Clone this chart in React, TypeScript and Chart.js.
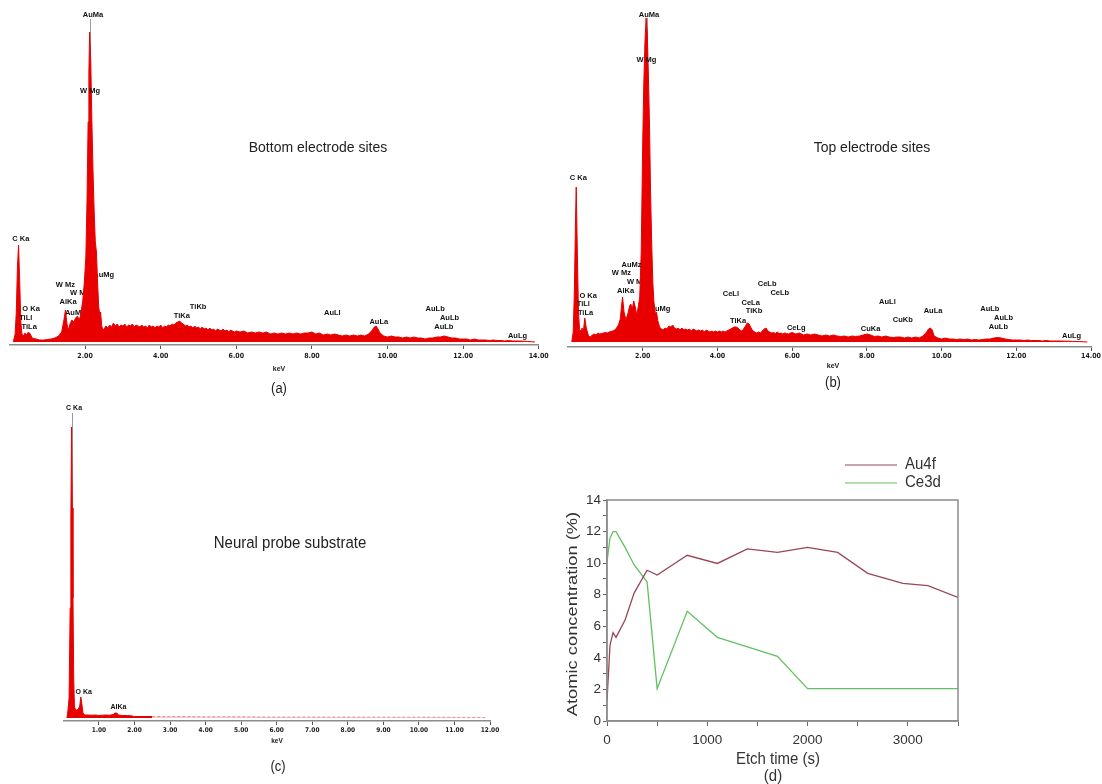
import React, { useEffect, useRef } from 'react';
import { Chart, registerables } from 'chart.js';

Chart.register(...registerables);

const SANS = '"Liberation Sans", Arial, Helvetica, sans-serif';
const NARROW = '"Liberation Sans Narrow", "DejaVu Sans Condensed", "Liberation Sans", sans-serif';
const RED = '#e80000';
const AU_COLOR = '#984656';
const CE_COLOR = '#62c062';

// ---------- (a) Bottom electrode sites : [keV, counts] ----------
const spectrumA: [number, number][] = [
  [0.10, 0], [0.15, 80], [0.18, 300], [0.21, 750], [0.24, 970], [0.27, 600], [0.30, 200], [0.33, 80],
  [0.37, 60], [0.41, 90], [0.45, 70], [0.50, 100], [0.55, 80], [0.60, 40], [0.70, 30], [0.80, 20],
  [0.90, 20], [1.00, 25], [1.10, 30], [1.20, 40], [1.30, 60], [1.38, 100], [1.44, 220], [1.48, 320],
  [1.52, 180], [1.56, 120], [1.60, 180], [1.65, 220], [1.70, 200], [1.75, 240], [1.80, 260], [1.84, 220],
  [1.88, 260], [1.94, 420], [1.98, 600], [2.02, 850], [2.05, 1400], [2.08, 2200], [2.10, 2700], [2.12, 3100],
  [2.15, 2800], [2.18, 2200], [2.21, 1700], [2.24, 1300], [2.27, 1000], [2.30, 900], [2.33, 600], [2.36, 350],
  [2.39, 270], [2.41, 300], [2.44, 160], [2.47, 120],
  [2.50, 130], [2.55, 160], [2.60, 140], [2.65, 170], [2.70, 150], [2.75, 190], [2.80, 160], [2.85, 180],
  [2.90, 150], [2.95, 170], [3.00, 160], [3.05, 180], [3.10, 150], [3.15, 170], [3.20, 160], [3.25, 180],
  [3.30, 150], [3.35, 170], [3.40, 160], [3.45, 150], [3.50, 170], [3.55, 150], [3.60, 160], [3.65, 140],
  [3.70, 170], [3.75, 150], [3.80, 160], [3.85, 140], [3.90, 160], [3.95, 150], [4.00, 170], [4.05, 140],
  [4.10, 160], [4.15, 150], [4.20, 170], [4.25, 160], [4.30, 180], [4.35, 170], [4.40, 190], [4.45, 200],
  [4.50, 210], [4.55, 190], [4.60, 180], [4.65, 160], [4.70, 170], [4.75, 150], [4.80, 160], [4.85, 140],
  [4.90, 160], [4.95, 140], [5.00, 150], [5.05, 130], [5.10, 150], [5.15, 130], [5.20, 140], [5.25, 120],
  [5.30, 140], [5.35, 120], [5.40, 130], [5.45, 110], [5.50, 130], [5.55, 120], [5.60, 110], [5.65, 130],
  [5.70, 110], [5.75, 120], [5.80, 100], [5.85, 120], [5.90, 110], [5.95, 100], [6.00, 110],
  [6.1, 100], [6.2, 110], [6.3, 90], [6.4, 100], [6.5, 90], [6.6, 100], [6.7, 90], [6.8, 100], [6.9, 80],
  [7.0, 90], [7.1, 80], [7.2, 90], [7.3, 80], [7.4, 90], [7.5, 80], [7.6, 90], [7.7, 80], [7.8, 90], [7.9, 90],
  [8.0, 100], [8.1, 80], [8.2, 90], [8.3, 70], [8.4, 80], [8.5, 70], [8.6, 80], [8.7, 70], [8.8, 60], [8.9, 70],
  [9.0, 60], [9.1, 70], [9.2, 60], [9.3, 70], [9.4, 60], [9.5, 80], [9.6, 120], [9.65, 150], [9.7, 160],
  [9.75, 130], [9.8, 90], [9.9, 60], [10.0, 50], [10.1, 60], [10.2, 50], [10.3, 50], [10.4, 40], [10.5, 50],
  [10.6, 40], [10.7, 50], [10.8, 40], [10.9, 40], [11.0, 30], [11.1, 40], [11.2, 40], [11.3, 50], [11.4, 50],
  [11.5, 60], [11.6, 50], [11.7, 40], [11.8, 40], [11.9, 30], [12.0, 30], [12.1, 30], [12.2, 20], [12.3, 30],
  [12.4, 20], [12.5, 20], [12.6, 20], [12.7, 15], [12.8, 20], [12.9, 15], [13.0, 15], [13.1, 10], [13.2, 15],
  [13.3, 10], [13.4, 10], [13.5, 10], [13.6, 8], [13.7, 5], [13.8, 3], [13.9, 0],
];
// [label, keV, counts, layer]
const peakLabelsA: [string, number, number, string][] = [
  ['AuMa', 2.21, 3270, 'over'], ['W Mg', 2.13, 2513, 'over'], ['C Ka', 0.30, 1030, 'over'],
  ['AuMg', 2.49, 670, 'under'], ['W Mz', 1.48, 570, 'over'], ['W Ma', 1.86, 487, 'under'],
  ['AlKa', 1.55, 397, 'over'], ['AuMz', 1.73, 287, 'under'], ['O Ka', 0.57, 330, 'over'],
  ['TiLl', 0.43, 240, 'over'], ['TiLa', 0.52, 150, 'over'], ['TiKa', 4.56, 263, 'over'],
  ['TiKb', 4.99, 353, 'over'], ['AuLl', 8.54, 293, 'over'], ['AuLa', 9.77, 197, 'over'],
  ['AuLb', 11.26, 330, 'over'], ['AuLb', 11.64, 237, 'over'], ['AuLb', 11.49, 150, 'over'],
  ['AuLg', 13.44, 60, 'over'],
];
// [keV, top counts] marker lines
const markersA: [number, number][] = [[2.13, 3230]];

// ---------- (b) Top electrode sites ----------
const spectrumB: [number, number][] = [
  [0.10, 0], [0.14, 100], [0.17, 500], [0.20, 1200], [0.22, 1550], [0.25, 900], [0.28, 300], [0.31, 120],
  [0.35, 110], [0.38, 140], [0.41, 100], [0.45, 240], [0.49, 140], [0.55, 60], [0.60, 50], [0.65, 70],
  [0.70, 80], [0.75, 70], [0.80, 90], [0.85, 80], [0.90, 85], [0.95, 90], [1.00, 95], [1.05, 90],
  [1.10, 100], [1.15, 105], [1.20, 110], [1.25, 120], [1.30, 140], [1.35, 170], [1.40, 230], [1.43, 350],
  [1.46, 450], [1.50, 300], [1.55, 220], [1.60, 280], [1.65, 360], [1.68, 380], [1.72, 330], [1.76, 410],
  [1.80, 350], [1.84, 270], [1.88, 350], [1.92, 450], [1.96, 900], [2.00, 2000], [2.03, 2600], [2.06, 3000],
  [2.09, 3240], [2.12, 3100], [2.15, 2700], [2.18, 2200], [2.21, 1500], [2.24, 1000], [2.27, 600],
  [2.30, 400], [2.34, 280], [2.37, 300], [2.40, 220], [2.45, 150],
  [2.50, 130], [2.55, 120], [2.60, 140], [2.65, 130], [2.70, 160], [2.75, 150], [2.80, 170], [2.85, 140],
  [2.90, 130], [2.95, 140], [3.00, 120], [3.05, 140], [3.10, 120], [3.15, 130], [3.20, 120], [3.25, 130],
  [3.30, 110], [3.35, 130], [3.40, 120], [3.45, 110], [3.50, 120], [3.55, 110], [3.60, 120], [3.65, 100],
  [3.70, 120], [3.75, 110], [3.80, 100], [3.85, 110], [3.90, 100], [3.95, 110], [4.00, 100], [4.05, 110],
  [4.10, 100], [4.15, 110], [4.20, 100], [4.25, 110], [4.30, 120], [4.35, 130], [4.40, 140], [4.45, 150],
  [4.50, 150], [4.55, 140], [4.60, 120], [4.65, 110], [4.70, 130], [4.75, 160], [4.80, 190], [4.85, 180],
  [4.90, 140], [4.95, 110], [5.00, 100], [5.05, 90], [5.10, 100], [5.15, 90], [5.20, 110], [5.25, 130],
  [5.30, 140], [5.35, 110], [5.40, 100], [5.45, 90], [5.50, 95], [5.55, 85], [5.60, 100], [5.65, 85],
  [5.70, 90], [5.75, 80], [5.80, 90], [5.85, 85], [5.90, 80], [5.95, 90], [6.00, 95],
  [6.1, 80], [6.2, 90], [6.3, 70], [6.4, 80], [6.5, 70], [6.6, 80], [6.7, 70], [6.8, 60], [6.9, 70],
  [7.0, 60], [7.1, 70], [7.2, 60], [7.3, 55], [7.4, 60], [7.5, 50], [7.6, 60], [7.7, 55], [7.8, 60],
  [7.9, 70], [8.0, 80], [8.1, 70], [8.2, 55], [8.3, 60], [8.4, 50], [8.5, 60], [8.6, 50], [8.7, 45],
  [8.8, 50], [8.9, 50], [9.0, 40], [9.1, 50], [9.2, 40], [9.3, 50], [9.4, 40], [9.5, 60], [9.6, 100],
  [9.65, 130], [9.7, 140], [9.75, 120], [9.8, 60], [9.9, 40], [10.0, 30], [10.1, 40], [10.2, 30],
  [10.3, 30], [10.4, 25], [10.5, 30], [10.6, 25], [10.7, 30], [10.8, 20], [10.9, 25], [11.0, 20],
  [11.1, 25], [11.2, 30], [11.3, 30], [11.4, 40], [11.5, 45], [11.6, 40], [11.7, 30], [11.8, 25],
  [11.9, 20], [12.0, 20], [12.1, 20], [12.2, 15], [12.3, 20], [12.4, 15], [12.5, 15], [12.6, 15],
  [12.7, 10], [12.8, 15], [12.9, 10], [13.0, 10], [13.1, 10], [13.2, 10], [13.3, 8], [13.4, 8],
  [13.5, 6], [13.6, 5], [13.7, 4], [13.8, 2], [13.9, 0],
];
const peakLabelsB: [string, number, number, string][] = [
  ['AuMa', 2.17, 3270, 'over'], ['W Mg', 2.10, 2820, 'over'], ['C Ka', 0.275, 1637, 'over'],
  ['AuMz', 1.70, 770, 'over'], ['W Mz', 1.43, 687, 'over'], ['W Ma', 1.84, 603, 'under'],
  ['AlKa', 1.54, 513, 'over'], ['O Ka', 0.54, 463, 'over'], ['TiLl', 0.41, 377, 'over'],
  ['TiLa', 0.47, 287, 'over'], ['AuMg', 2.46, 330, 'under'], ['CeLl', 4.36, 480, 'over'],
  ['CeLb', 5.33, 577, 'over'], ['CeLb', 5.67, 487, 'over'], ['CeLa', 4.89, 393, 'over'],
  ['TiKb', 4.98, 310, 'over'], ['TiKa', 4.55, 213, 'over'], ['CeLg', 6.11, 137, 'over'],
  ['AuLl', 8.55, 403, 'over'], ['AuLa', 9.77, 310, 'over'], ['CuKb', 8.96, 220, 'over'],
  ['CuKa', 8.10, 130, 'over'], ['AuLb', 11.29, 330, 'over'], ['AuLb', 11.66, 240, 'over'],
  ['AuLb', 11.52, 153, 'over'], ['AuLg', 13.48, 60, 'over'],
];
const markersB: [number, number][] = [[2.11, 3240]];

// ---------- (c) Neural probe substrate ----------
const spectrumC: [number, number][] = [
  [0.10, 0], [0.13, 80], [0.16, 200], [0.19, 1100], [0.21, 2000], [0.23, 2910], [0.25, 2100], [0.27, 1200],
  [0.29, 400], [0.31, 120], [0.34, 80], [0.38, 80], [0.42, 90], [0.46, 120], [0.49, 210], [0.52, 140],
  [0.55, 50], [0.60, 30], [0.70, 30], [0.80, 28], [0.90, 30], [1.00, 25], [1.10, 28], [1.20, 30],
  [1.30, 28], [1.40, 35], [1.45, 50], [1.50, 50], [1.55, 30], [1.65, 25], [1.80, 25], [1.90, 22],
  [2.0, 15], [2.5, 15], [3.0, 14], [3.5, 14], [4.0, 12], [4.5, 13], [5.0, 12], [5.5, 11], [6.0, 10],
  [7.0, 10], [8.0, 9], [9.0, 8], [10.0, 8], [11.0, 7], [11.8, 5], [11.9, 0],
];
const peakLabelsC: [string, number, number, string][] = [
  ['C Ka', 0.30, 3097, 'over'], ['O Ka', 0.57, 263, 'over'], ['AlKa', 1.55, 107, 'over'],
];
const markersC: [number, number][] = [[0.23, 3050]];

const keVTicksAB = [2, 4, 6, 8, 10, 12, 14];
const keVTicksC = [1, 2, 3, 4, 5, 6, 7, 8, 9, 10, 11, 12];

// ---------- (d) XPS depth profile ----------
const etchTime = [0, 30, 60, 90, 180, 270, 400, 500, 800, 1100, 1400, 1700, 2000, 2300, 2600, 2950, 3200, 3500];
const au4f = [1.3, 4.8, 5.6, 5.3, 6.4, 8.1, 9.55, 9.25, 10.5, 9.98, 10.9, 10.68, 11.0, 10.68, 9.35, 8.72, 8.57, 7.83];
const ce3d = [10.1, 11.6, 12.0, 12.0, 11.0, 9.9, 8.8, 2.05, 6.95, 5.3, 4.7, 4.1, 2.05, 2.05, 2.05, 2.05, 2.05, 2.05];
const timeTicks = [0, 500, 1000, 1500, 2000, 2500, 3000, 3500];
const concTicks = [0, 1, 2, 3, 4, 5, 6, 7, 8, 9, 10, 11, 12, 13, 14];

const TITLE_A = 'Bottom electrode sites';
const TITLE_B = 'Top electrode sites';
const TITLE_C = 'Neural probe substrate';
const X_TITLE_SPEC = 'keV';
const X_TITLE_D = 'Etch time (s)';
const Y_TITLE_D = 'Atomic concentration (%)';

type TextItem = { text: string; x: number; y: number; font: string; color?: string; sy?: number; rot?: boolean };

function drawText(ctx: CanvasRenderingContext2D, t: TextItem) {
  ctx.save();
  ctx.translate(t.x, t.y);
  if (t.rot) ctx.rotate(-Math.PI / 2);
  if (t.sy) {
    if (t.rot) ctx.scale(t.sy, 1);
    else ctx.scale(1, t.sy);
  }
  ctx.font = t.font;
  ctx.fillStyle = t.color || '#222';
  ctx.textAlign = 'center';
  ctx.textBaseline = 'middle';
  ctx.fillText(t.text, 0, 0);
  ctx.restore();
}

function textsPlugin(items: TextItem[]) {
  return {
    id: 'texts',
    afterDraw(chart: any) {
      const ctx = chart.ctx as CanvasRenderingContext2D;
      items.forEach((t) => drawText(ctx, t));
    },
  };
}

function peakLabelPlugin(labels: [string, number, number, string][], markers: [number, number][], fontSize: number) {
  const drawLayer = (chart: any, layer: string) => {
    const ctx = chart.ctx as CanvasRenderingContext2D;
    const xs = chart.scales.x;
    const ys = chart.scales.y;
    ctx.save();
    ctx.font = `bold ${fontSize}px ${SANS}`;
    ctx.fillStyle = '#111';
    ctx.textAlign = 'center';
    ctx.textBaseline = 'middle';
    labels.forEach(([txt, kev, cnt, l]) => {
      if (l === layer) ctx.fillText(txt, xs.getPixelForValue(kev), ys.getPixelForValue(cnt));
    });
    ctx.restore();
  };
  return {
    id: 'peakLabels',
    beforeDatasetsDraw(chart: any) {
      const ctx = chart.ctx as CanvasRenderingContext2D;
      const xs = chart.scales.x;
      const ys = chart.scales.y;
      ctx.save();
      ctx.strokeStyle = '#9a9a9a';
      ctx.lineWidth = 1;
      markers.forEach(([kev, top]) => {
        const x = Math.round(xs.getPixelForValue(kev)) + 0.5;
        ctx.beginPath();
        ctx.moveTo(x, ys.getPixelForValue(top));
        ctx.lineTo(x, ys.getPixelForValue(0));
        ctx.stroke();
      });
      ctx.restore();
      drawLayer(chart, 'under');
    },
    afterDatasetsDraw(chart: any) {
      drawLayer(chart, 'over');
    },
  };
}

type SpecCfg = {
  spectrum: [number, number][];
  labels: [string, number, number, string][];
  markers: [number, number][];
  maxKeV: number;
  ticks: number[];
  padding: { left: number; right: number; top: number; bottom: number };
  xHeight: number;
  yMin: number;
  yMax: number;
  tickPad: number;
  tickFont: number;
  labelFont: number;
  fadeFrom?: number;
  texts: TextItem[];
};

function makeSpectrum(canvas: HTMLCanvasElement, c: SpecCfg) {
  const fade = c.fadeFrom;
  return new Chart(canvas, {
    type: 'line',
    data: {
      datasets: [
        {
          data: c.spectrum.map(([x, y]) => ({ x, y })),
          borderColor: RED,
          backgroundColor: RED,
          borderWidth: 1,
          pointRadius: 0,
          fill: 'origin',
          tension: 0,
          segment:
            fade !== undefined
              ? {
                  borderColor: (ctx: any) => (ctx.p0.parsed.x >= fade ? 'rgba(215,120,120,0.75)' : undefined),
                  borderDash: (ctx: any) => (ctx.p0.parsed.x >= fade ? [3, 2] : undefined),
                  backgroundColor: (ctx: any) => (ctx.p0.parsed.x >= fade ? 'rgba(240,170,170,0.6)' : undefined),
                }
              : undefined,
        },
      ],
    },
    options: {
      responsive: false,
      animation: false,
      devicePixelRatio: 1,
      layout: { padding: c.padding },
      plugins: { legend: { display: false }, tooltip: { enabled: false }, title: { display: false } },
      scales: {
        x: {
          type: 'linear',
          min: 0,
          max: c.maxKeV,
          afterBuildTicks: (s: any) => {
            s.ticks = c.ticks.map((v) => ({ value: v }));
          },
          afterFit: (s: any) => {
            s.height = c.xHeight;
          },
          ticks: {
            autoSkip: false,
            maxRotation: 0,
            padding: c.tickPad,
            color: '#1a1a1a',
            font: { family: NARROW, size: c.tickFont, weight: 'bold' },
            callback: (v: any) => Number(v).toFixed(2),
          },
          grid: { display: true, drawOnChartArea: false, drawTicks: true, tickLength: 4, color: '#555', lineWidth: 1 },
          border: { display: true, color: '#8c8c8c', width: 1.5 },
        },
        y: { display: false, min: c.yMin, max: c.yMax },
      },
    } as any,
    plugins: [peakLabelPlugin(c.labels, c.markers, c.labelFont), textsPlugin(c.texts)],
  });
}

function framePlugin() {
  return {
    id: 'frame',
    afterDraw(chart: any) {
      const { ctx, chartArea: a } = chart;
      ctx.save();
      ctx.strokeStyle = '#8c8c8c';
      ctx.lineWidth = 1.5;
      ctx.strokeRect(a.left, a.top, a.right - a.left, a.bottom - a.top);
      ctx.restore();
    },
  };
}

function legendPlugin() {
  return {
    id: 'customLegend',
    afterDraw(chart: any) {
      const ctx = chart.ctx as CanvasRenderingContext2D;
      chart.data.datasets.forEach((ds: any, i: number) => {
        const y = 65 + i * 18;
        ctx.save();
        ctx.strokeStyle = ds.borderColor;
        ctx.lineWidth = 1.2;
        ctx.beginPath();
        ctx.moveTo(293, y);
        ctx.lineTo(345, y);
        ctx.stroke();
        ctx.translate(353, y - 1);
        ctx.scale(1, 1.1);
        ctx.font = `15px ${SANS}`;
        ctx.fillStyle = '#333';
        ctx.textAlign = 'left';
        ctx.textBaseline = 'middle';
        ctx.fillText(ds.label, 0, 0);
        ctx.restore();
      });
    },
  };
}

function makeProfile(canvas: HTMLCanvasElement) {
  return new Chart(canvas, {
    type: 'line',
    data: {
      datasets: [
        {
          label: 'Au4f',
          data: etchTime.map((t, i) => ({ x: t, y: au4f[i] })),
          borderColor: AU_COLOR,
          borderWidth: 1.3,
          pointRadius: 0,
          fill: false,
          tension: 0,
        },
        {
          label: 'Ce3d',
          data: etchTime.map((t, i) => ({ x: t, y: ce3d[i] })),
          borderColor: CE_COLOR,
          borderWidth: 1.3,
          pointRadius: 0,
          fill: false,
          tension: 0,
        },
      ],
    },
    options: {
      responsive: false,
      animation: false,
      devicePixelRatio: 1,
      layout: { padding: { left: 0, right: 144, top: 100, bottom: 0 } },
      plugins: { legend: { display: false }, tooltip: { enabled: false }, title: { display: false } },
      scales: {
        x: {
          type: 'linear',
          min: 0,
          max: 3500,
          afterBuildTicks: (s: any) => {
            s.ticks = timeTicks.map((v) => ({ value: v }));
          },
          afterFit: (s: any) => {
            s.height = 63;
          },
          ticks: {
            autoSkip: false,
            maxRotation: 0,
            padding: 6,
            color: '#333',
            font: { family: SANS, size: 13.5 },
            callback: (v: any) => (Number(v) % 1000 === 0 ? String(v) : ''),
          },
          grid: { display: true, drawOnChartArea: false, tickLength: 5, color: '#666', lineWidth: 1 },
          border: { display: true, color: '#8c8c8c', width: 1.5 },
        },
        y: {
          min: 0,
          max: 14,
          afterBuildTicks: (s: any) => {
            s.ticks = concTicks.map((v) => ({ value: v }));
          },
          afterFit: (s: any) => {
            s.width = 55;
          },
          ticks: {
            autoSkip: false,
            padding: 2,
            color: '#333',
            font: { family: SANS, size: 13.5 },
            callback: (v: any) => (Number(v) % 2 === 0 ? String(v) : ''),
          },
          grid: { display: true, drawOnChartArea: false, tickLength: 4, color: '#666', lineWidth: 1 },
          border: { display: true, color: '#8c8c8c', width: 1.5 },
        },
      },
    } as any,
    plugins: [
      framePlugin(),
      legendPlugin(),
      textsPlugin([
        { text: X_TITLE_D, x: 226, y: 359, font: `15px ${SANS}`, color: '#333', sy: 1.1 },
        { text: '(d)', x: 221, y: 376, font: `15px ${SANS}`, color: '#333', sy: 1.1 },
        { text: Y_TITLE_D, x: 21, y: 214, font: `15.5px ${SANS}`, color: '#333', sy: 1.18, rot: true },
      ]),
    ],
  });
}

export default function App() {
  const refA = useRef<HTMLCanvasElement>(null);
  const refB = useRef<HTMLCanvasElement>(null);
  const refC = useRef<HTMLCanvasElement>(null);
  const refD = useRef<HTMLCanvasElement>(null);

  useEffect(() => {
    const charts: Chart[] = [];
    charts.push(
      makeSpectrum(refA.current!, {
        spectrum: spectrumA,
        labels: peakLabelsA,
        markers: markersA,
        maxKeV: 14,
        ticks: keVTicksAB,
        padding: { left: 9.5, right: 13.3, top: 10, bottom: 0 },
        xHeight: 55,
        yMin: -30,
        yMax: 3320,
        tickPad: 3,
        tickFont: 7,
        labelFont: 7.5,
        texts: [
          { text: TITLE_A, x: 318, y: 148, font: `14px ${SANS}`, color: '#222', sy: 1.1 },
          { text: X_TITLE_SPEC, x: 279, y: 369, font: `bold 7px ${SANS}`, color: '#1a1a1a' },
          { text: '(a)', x: 279, y: 389, font: `13px ${SANS}`, color: '#222', sy: 1.1 },
        ],
      })
    );
    charts.push(
      makeSpectrum(refB.current!, {
        spectrum: spectrumB,
        labels: peakLabelsB,
        markers: markersB,
        maxKeV: 14,
        ticks: keVTicksAB,
        padding: { left: 16, right: 8.3, top: 10, bottom: 0 },
        xHeight: 53,
        yMin: -50,
        yMax: 3320,
        tickPad: 1,
        tickFont: 7,
        labelFont: 7.5,
        texts: [
          { text: TITLE_B, x: 320, y: 148, font: `14px ${SANS}`, color: '#222', sy: 1.1 },
          { text: X_TITLE_SPEC, x: 281, y: 366, font: `bold 7px ${SANS}`, color: '#1a1a1a' },
          { text: '(b)', x: 281, y: 383, font: `13px ${SANS}`, color: '#222', sy: 1.1 },
        ],
      })
    );
    charts.push(
      makeSpectrum(refC.current!, {
        spectrum: spectrumC,
        labels: peakLabelsC,
        markers: markersC,
        maxKeV: 12,
        ticks: keVTicksC,
        padding: { left: 63.4, right: 62, top: 10, bottom: 0 },
        xHeight: 63,
        yMin: -30,
        yMax: 3080,
        tickPad: 1,
        tickFont: 6.5,
        labelFont: 7,
        fadeFrom: 2.5,
        texts: [
          { text: TITLE_C, x: 290, y: 143, font: `15px ${SANS}`, color: '#222', sy: 1.1 },
          { text: X_TITLE_SPEC, x: 277, y: 341, font: `bold 6.5px ${SANS}`, color: '#1a1a1a' },
          { text: '(c)', x: 278, y: 367, font: `13px ${SANS}`, color: '#222', sy: 1.1 },
        ],
      })
    );
    charts.push(makeProfile(refD.current!));
    return () => charts.forEach((c) => c.destroy());
  }, []);

  const cs = (left: number, top: number, w: number, h: number): React.CSSProperties => ({
    position: 'absolute',
    left,
    top,
    width: w,
    height: h,
  });

  return (
    <div style={{ position: 'absolute', left: 0, top: 0, width: 1102, height: 784, background: '#fff', overflow: 'hidden' }}>
      <canvas ref={refA} width={552} height={400} style={cs(0, 0, 552, 400)} />
      <canvas ref={refB} width={550} height={400} style={cs(552, 0, 550, 400)} />
      <canvas ref={refC} width={552} height={384} style={cs(0, 400, 552, 384)} />
      <canvas ref={refD} width={550} height={384} style={cs(552, 400, 550, 384)} />
    </div>
  );
}
